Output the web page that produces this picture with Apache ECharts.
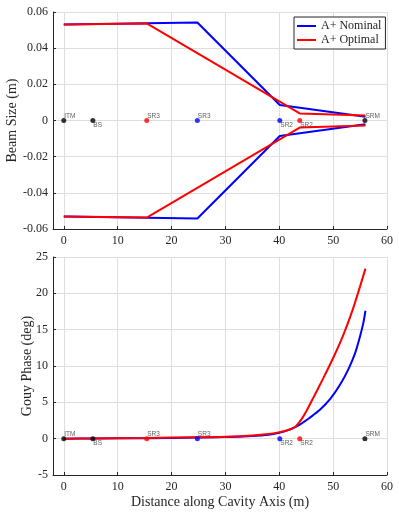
<!DOCTYPE html>
<html>
<head>
<meta charset="utf-8">
<script src="https://cdn.jsdelivr.net/npm/echarts@6/dist/echarts.min.js"></script>
<style>
  html, body { margin: 0; padding: 0; background: #fff; }
  #chart { width: 399px; height: 516px; }
</style>
</head>
<body>
<div id="chart"></div>
<script>
// optics along the cavity (x in m), which design each one belongs to
var opticNames = ['ITM', 'BS', 'SR3', 'SR3', 'SR2', 'SR2', 'SRM'];
var opticPos = [0, 5.4, 15.4, 24.8, 40.1, 43.8, 55.9];
var opticDesign = ['both', 'both', 'optimal', 'nominal', 'nominal', 'optimal', 'both'];

// beam size (m), upper envelope; lower one is the mirror
var nominalBeamX = [0, 24.8, 40.1, 56];
var nominalBeamSize = [0.0531, 0.0542, 0.0086, 0.0021];
var optimalBeamX = [0, 15.4, 43.8, 56];
var optimalBeamSize = [0.0531, 0.0537, 0.0039, 0.0028];

// accumulated Gouy phase (deg)
var gouyNominalX = [0, 5.4, 15.4, 24.8, 30, 35, 38, 40, 42, 43.9, 45.7, 47.6, 49.5, 51.3, 52.8, 54.1, 55, 55.6, 56];
var gouyNominal = [0, 0.02, 0.07, 0.15, 0.22, 0.38, 0.55, 0.8, 1.28, 1.97, 2.9, 4.0, 5.5, 7.45, 9.5, 11.8, 14.1, 15.9, 17.6];
var gouyOptimalX = [0, 5.4, 15.4, 24.8, 30, 35, 38, 40, 41.5, 43, 44.5, 46.3, 48.2, 50, 51.9, 53.7, 56];
var gouyOptimal = [0, 0.03, 0.1, 0.2, 0.28, 0.45, 0.65, 0.9, 1.15, 1.65, 3.1, 5.6, 8.36, 11.1, 14.3, 17.9, 23.4];

var xTicks = [0, 10, 20, 30, 40, 50, 60];

var serif = 'Liberation Serif';
var axisColor = '#262626';
var gridColor = '#dedede';
var designColor = { both: '#000000', nominal: '#0000ff', optimal: '#ff0000' };
var labelBelow = ['BS', 'SR2'];

function pairs(xs, ys, sign) {
    return xs.map(function (x, i) { return [x, sign * ys[i]]; });
}

function xAxisFor(gridIndex, name) {
    return {
        type: 'value',
        gridIndex: gridIndex,
        min: -2,
        max: xTicks[xTicks.length - 1],
        minInterval: 10,
        maxInterval: 10,
        name: name,
        nameLocation: 'middle',
        nameGap: 20,
        nameMoveOverlap: false,
        nameTextStyle: { fontFamily: serif, fontSize: 14, color: axisColor },
        axisLine: { show: true, onZero: false, lineStyle: { color: axisColor, width: 1 } },
        axisTick: { show: true, inside: true, length: 3, lineStyle: { color: axisColor } },
        axisLabel: {
            fontFamily: serif, fontSize: 12, color: axisColor, margin: 6,
            formatter: function (v) { return xTicks.indexOf(v) >= 0 ? String(v) : ''; }
        },
        splitLine: { show: true, lineStyle: { color: gridColor, width: 1 } }
    };
}

function yAxisFor(gridIndex, name, min, max, step, gap) {
    return {
        type: 'value',
        gridIndex: gridIndex,
        min: min,
        max: max,
        interval: step,
        name: name,
        nameLocation: 'middle',
        nameRotate: 90,
        nameGap: gap,
        nameMoveOverlap: false,
        nameTextStyle: { fontFamily: serif, fontSize: 14, color: axisColor },
        axisLine: { show: true, onZero: false, lineStyle: { color: axisColor, width: 1 } },
        axisTick: { show: true, inside: true, length: 3, lineStyle: { color: axisColor } },
        axisLabel: { fontFamily: serif, fontSize: 12, color: axisColor, margin: 5 },
        splitLine: { show: true, lineStyle: { color: gridColor, width: 1 } }
    };
}

function lineSeries(name, data, color, axisIndex, smooth) {
    return {
        name: name,
        type: 'line',
        xAxisIndex: axisIndex,
        yAxisIndex: axisIndex,
        data: data,
        showSymbol: false,
        smooth: smooth ? 0.3 : false,
        lineStyle: { color: color, width: 2 },
        itemStyle: { color: color },
        z: 3
    };
}

function opticSeries(axisIndex) {
    var data = opticNames.map(function (n, i) {
        var below = labelBelow.indexOf(n) >= 0;
        return {
            value: [opticPos[i], 0],
            itemStyle: { color: designColor[opticDesign[i]] },
            label: {
                show: true,
                formatter: n,
                position: below ? [3, 4] : [3, -5],
                fontFamily: 'Liberation Sans',
                fontSize: 6.5,
                color: '#333333'
            }
        };
    });
    return {
        name: 'optics',
        type: 'scatter',
        xAxisIndex: axisIndex,
        yAxisIndex: axisIndex,
        symbolSize: 5,
        data: data,
        z: 5,
        silent: true
    };
}

var chart = echarts.init(document.getElementById('chart'));

var option = {
    animation: false,
    backgroundColor: '#ffffff',
    grid: [
        { left: 53, top: 12, width: 334, height: 217, containLabel: false, outerBoundsMode: 'none' },
        { left: 53, top: 257, width: 334, height: 218, containLabel: false, outerBoundsMode: 'none' }
    ],
    legend: {
        data: ['A+ Nominal', 'A+ Optimal'],
        orient: 'vertical',
        left: 294,
        top: 17,
        icon: 'rect',
        itemWidth: 19,
        itemHeight: 2,
        itemGap: 2,
        padding: [3, 4, 3, 3],
        borderColor: axisColor,
        borderWidth: 1,
        backgroundColor: '#ffffff',
        textStyle: { fontFamily: serif, fontSize: 12, color: axisColor, lineHeight: 12 }
    },
    xAxis: [
        xAxisFor(0, ''),
        xAxisFor(1, 'Distance along Cavity Axis (m)')
    ],
    yAxis: [
        yAxisFor(0, 'Beam Size (m)', -0.06, 0.06, 0.02, 34),
        yAxisFor(1, 'Gouy Phase (deg)', -5, 25, 5, 19)
    ],
    series: [
        lineSeries('A+ Nominal', pairs(nominalBeamX, nominalBeamSize, 1), '#0000ff', 0, false),
        lineSeries('A+ Nominal', pairs(nominalBeamX, nominalBeamSize, -1), '#0000ff', 0, false),
        lineSeries('A+ Optimal', pairs(optimalBeamX, optimalBeamSize, 1), '#ff0000', 0, false),
        lineSeries('A+ Optimal', pairs(optimalBeamX, optimalBeamSize, -1), '#ff0000', 0, false),
        opticSeries(0),
        lineSeries('A+ Nominal', pairs(gouyNominalX, gouyNominal, 1), '#0000ff', 1, true),
        lineSeries('A+ Optimal', pairs(gouyOptimalX, gouyOptimal, 1), '#ff0000', 1, true),
        opticSeries(1)
    ]
};

chart.setOption(option);
</script>
</body>
</html>
